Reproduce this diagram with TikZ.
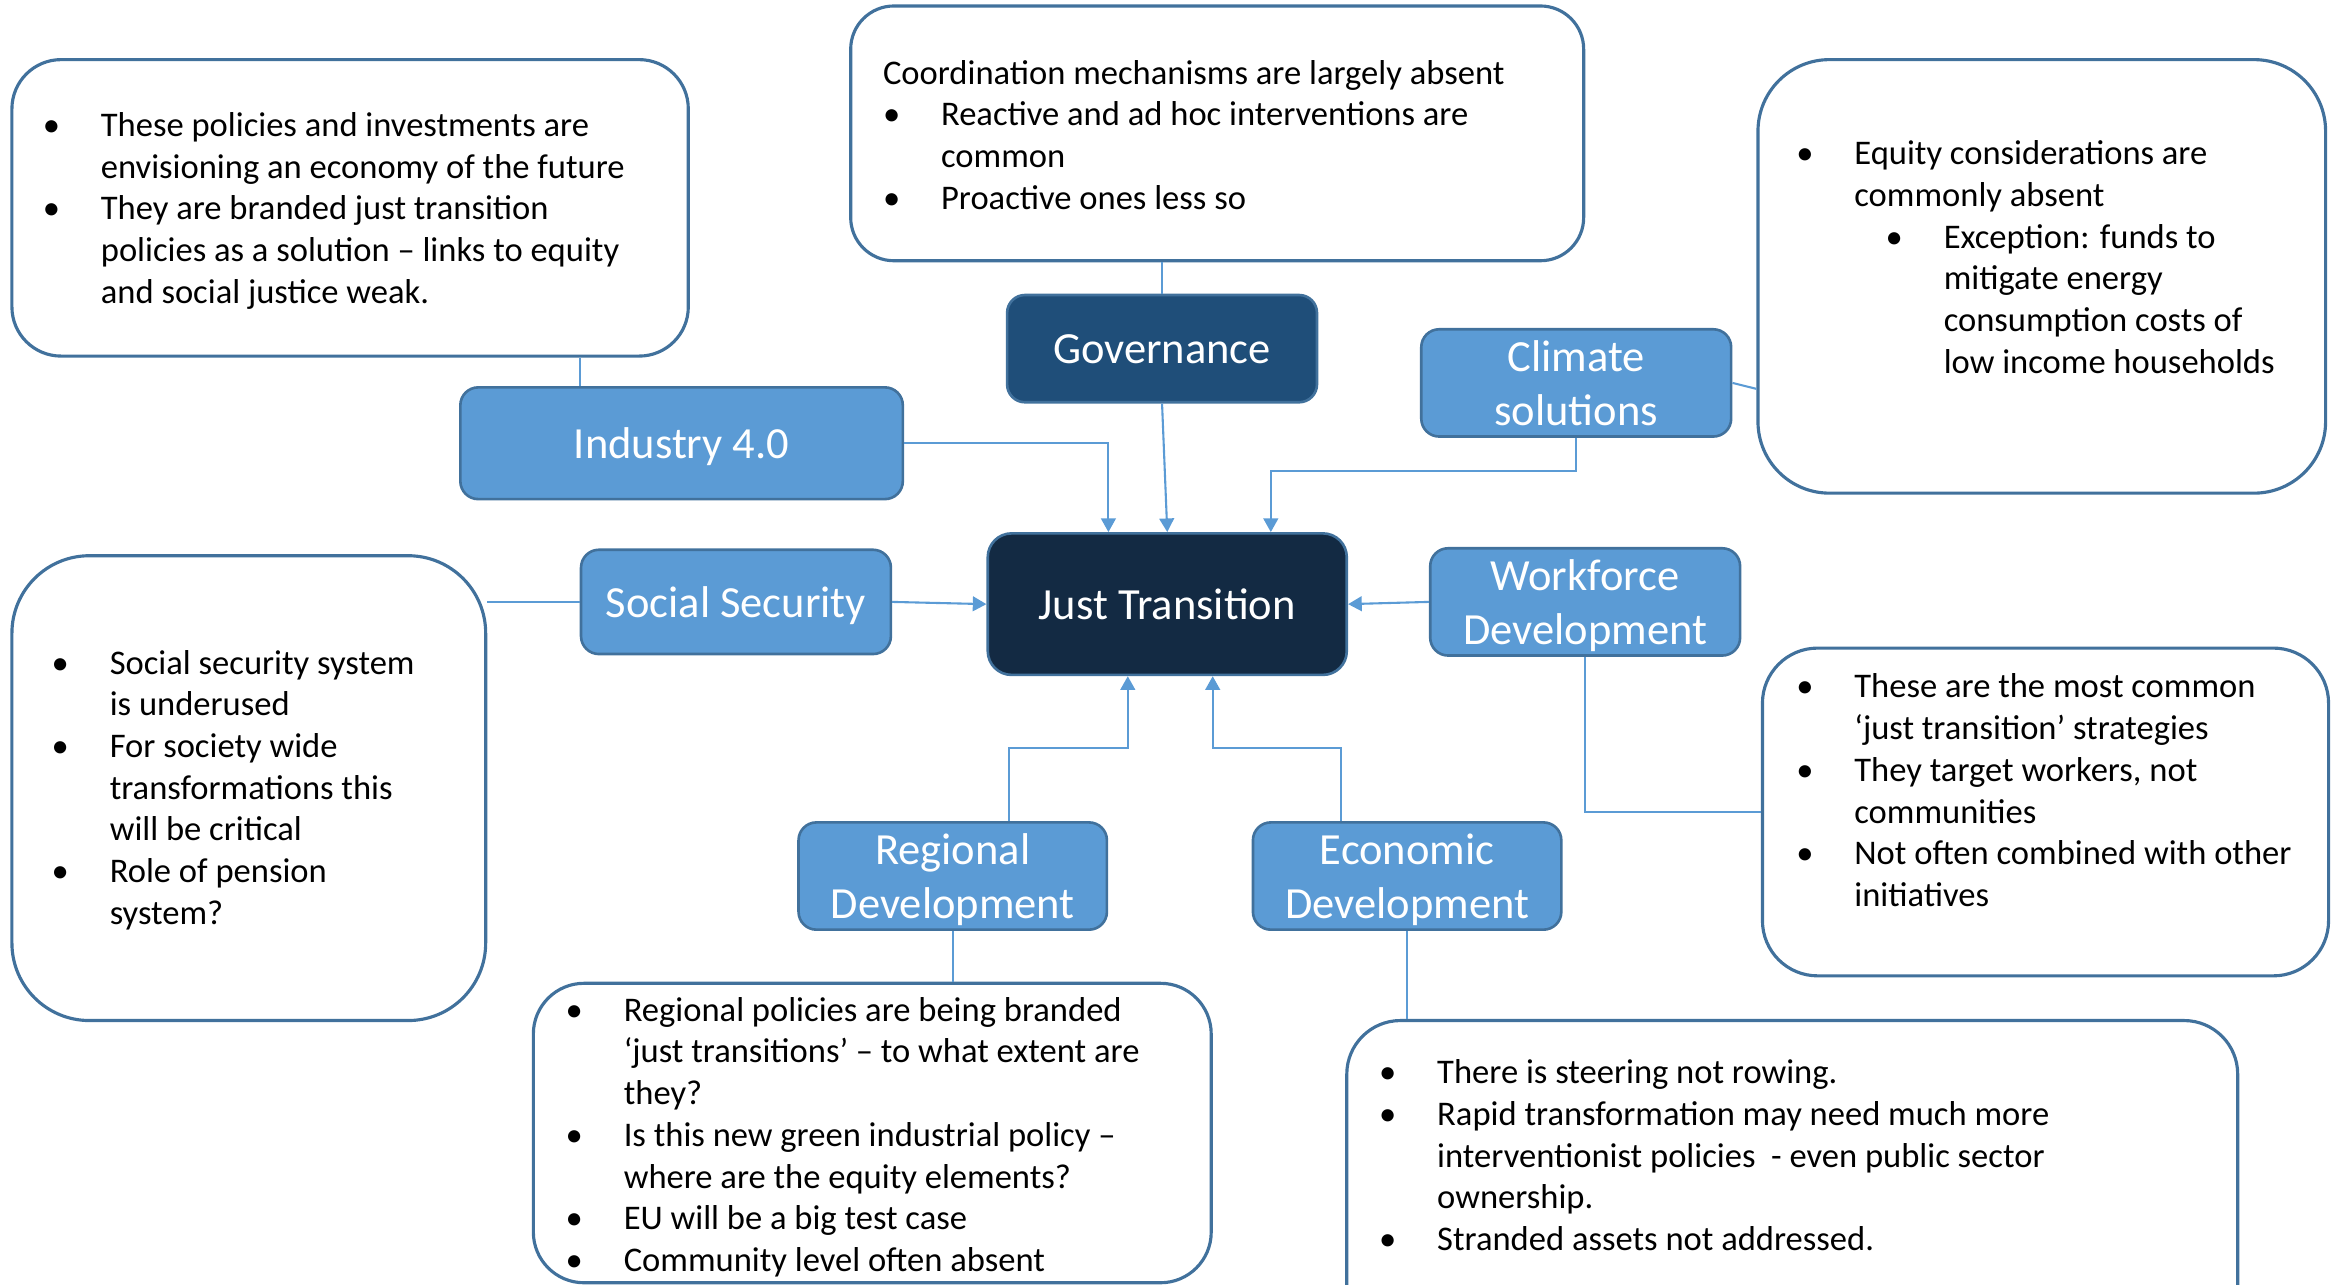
\documentclass[tikz,border=0pt]{standalone}
\usepackage{fontspec}
\setmainfont{Carlito}
\usetikzlibrary{arrows.meta}

\definecolor{boxblue}{HTML}{5B9BD5}
\definecolor{boxedge}{HTML}{41719C}
\definecolor{govblue}{HTML}{1F4E79}
\definecolor{jtnavy}{HTML}{132A43}
\definecolor{linkblue}{HTML}{5B9BD5}

\newcommand{\bul}{\makebox[0.34cm][l]{\hspace*{-0.05cm}\textbullet}}
\newcommand{\hang}{\hspace*{0.34cm}}

\begin{document}
\begin{tikzpicture}

  \useasboundingbox (0,0) rectangle (15.68,-8.62);
  \clip (0,0) rectangle (15.68,-8.62);

  \begin{scope}[every node/.style={draw=boxedge,line width=0.6pt,fill=white,inner sep=0pt}]
    \node[minimum width=4.54cm,minimum height=1.99cm,rounded corners=0.33cm] (cInd)  at (2.35,-1.395)   {};
    \node[minimum width=4.92cm,minimum height=1.71cm,rounded corners=0.29cm] (cGov)  at (8.17,-0.895)   {};
    \node[minimum width=3.81cm,minimum height=2.91cm,rounded corners=0.48cm] (cClim) at (13.705,-1.855) {};
    \node[minimum width=3.18cm,minimum height=3.12cm,rounded corners=0.52cm] (cSoc)  at (1.67,-5.29)    {};
    \node[minimum width=3.80cm,minimum height=2.20cm,rounded corners=0.37cm] (cWork) at (13.73,-5.45)   {};
    \node[minimum width=4.55cm,minimum height=2.01cm,rounded corners=0.34cm] (cReg)  at (5.855,-7.605)  {};
    \node[minimum width=5.98cm,minimum height=2.15cm,rounded corners=0.36cm] (cEcon) at (12.03,-7.925)  {};
  \end{scope}

  % text blocks sit on the baseline of their last line
  \begin{scope}[every node/.style={anchor=base west,align=left,inner sep=0pt,
      font=\fontsize{6.6}{7.97}\selectfont}]
    \node (tInd) at (0.33,-2.035) {\bul These policies and investments are\\
      \hang envisioning an economy of the future\\
      \bul They are branded just transition\\
      \hang policies as a solution – links to equity\\
      \hang and social justice weak.};
    \node (tGov) at (5.92,-1.405) {Coordination mechanisms are largely absent\\
      \hspace*{0.05cm}\bul Reactive and ad hoc interventions are\\
      \hspace*{0.05cm}\hang common\\
      \hspace*{0.05cm}\bul Proactive ones less so};
    \node (tClim) at (12.10,-2.505) {\bul Equity considerations are\\
      \hang commonly absent\\
      \hspace*{0.60cm}\bul Exception: funds to\\
      \hspace*{0.94cm}mitigate energy\\
      \hspace*{0.94cm}consumption costs of\\
      \hspace*{0.94cm}low income households};
    \node (tSoc) at (0.39,-6.205) {\bul Social security system\\
      \hang is underused\\
      \bul For society wide\\
      \hang transformations this\\
      \hang will be critical\\
      \bul Role of pension\\
      \hang system?};
    \node (tWork) at (12.10,-6.085) {\bul These are the most common\\
      \hang ‘just transition’ strategies\\
      \bul They target workers, not\\
      \hang communities\\
      \bul Not often combined with other\\
      \hang initiatives};
    \node (tReg) at (3.84,-8.535) {\bul Regional policies are being branded\\
      \hang ‘just transitions’ – to what extent are\\
      \hang they?\\
      \bul Is this new green industrial policy –\\
      \hang where are the equity elements?\\
      \bul EU will be a big test case\\
      \bul Community level often absent};
    \node (tEcon) at (9.30,-8.395) {\bul There is steering not rowing.\\
      \bul Rapid transformation may need much more\\
      \hang interventionist policies\ \ - even public sector\\
      \hang ownership.\\
      \bul Stranded assets not addressed.};
  \end{scope}

  \begin{scope}[every node/.style={draw=boxedge,line width=0.5pt,fill=boxblue,text=white,
      align=center,inner sep=0pt,minimum width=2.08cm,minimum height=0.72cm,text depth=0pt,
      rounded corners=0.12cm,font=\fontsize{8.5}{10.24}\selectfont}]
    \node[fill=govblue] (gov) at (7.80,-2.34) {Governance};
    \node[minimum width=2.97cm,minimum height=0.75cm] (ind) at (4.575,-2.975) {Industry 4.0};
    \node (clim) at (10.58,-2.57) {Climate\\solutions};
    \node[minimum height=0.70cm] (soc) at (4.94,-4.04) {Social Security};
    \node[fill=jtnavy,minimum width=2.41cm,minimum height=0.95cm,rounded corners=0.16cm]
      (jt) at (7.835,-4.055) {Just Transition};
    \node (work) at (10.64,-4.04) {Workforce\\Development};
    \node[minimum width=2.07cm] (reg) at (6.395,-5.88) {Regional\\Development};
    \node[minimum width=2.07cm] (econ) at (9.445,-5.88) {Economic\\Development};
  \end{scope}

  \coordinate (indTop)  at ([xshift=0.81cm]ind.north west);
  \coordinate (jtInd)   at ([xshift=-0.395cm]jt.north);
  \coordinate (jtClim)  at ([xshift=0.695cm]jt.north);
  \coordinate (jtReg)   at ([xshift=-0.265cm]jt.south);
  \coordinate (jtEcon)  at ([xshift=0.305cm]jt.south);
  \coordinate (regTop)  at ([xshift=0.375cm]reg.north);
  \coordinate (econTop) at ([xshift=-0.445cm]econ.north);

  \begin{scope}[every edge/.style={draw=linkblue,line width=0.4pt}]
    \path (indTop)     edge (indTop |- cInd.south);
    \path (gov.north)  edge (gov.north |- cGov.south);
    \path (clim.east)  edge ([yshift=-0.04cm]clim.east -| cClim.west);
    \path (soc.west)   edge (soc.west -| cSoc.east);
    \path (work.south) edge[to path={|- (\tikztotarget)}] (cWork.west);
    \path (reg.south)  edge (reg.south |- cReg.north);
    \path (econ.south) edge (econ.south |- cEcon.north);
  \end{scope}

  \begin{scope}[draw=linkblue,line width=0.4pt,-{Triangle[length=2.6pt,width=2.8pt]}]
    \draw (ind.east) -| (jtInd);
    \draw (gov.south) -- (jt.north);
    \draw (clim.south) -- ++(0,-0.22) -| (jtClim);
    \draw (soc.east) -- (jt.west);
    \draw (work.west) -- (jt.east);
    \draw (regTop) -- ++(0,0.49) -| (jtReg);
    \draw (econTop) -- ++(0,0.49) -| (jtEcon);
  \end{scope}

\end{tikzpicture}
\end{document}
